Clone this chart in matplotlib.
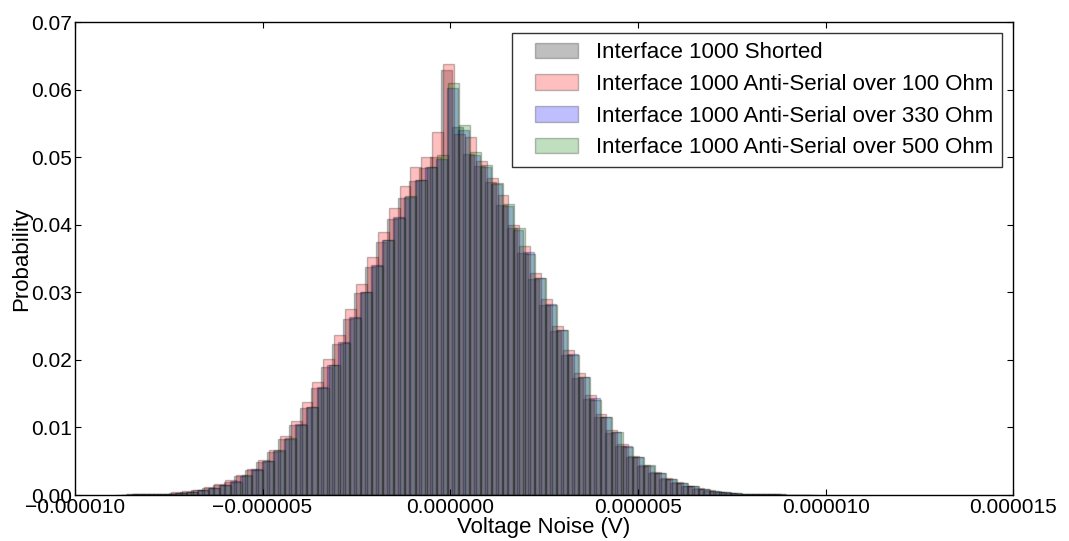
import numpy as np
import matplotlib
matplotlib.use("Agg")
import matplotlib.pyplot as plt
from matplotlib.patches import Rectangle
from matplotlib.legend_handler import HandlerPatch
from matplotlib.ticker import FuncFormatter

plt.rcParams["font.family"] = ["Liberation Sans", "DejaVu Sans"]

# bin layout of each noise histogram: left edge of the bin that holds 0 V, and bin width (V)
bin_width = 0.29e-6
zero_bin_left = {
    "shorted": -0.24e-6,
    "r100": -0.19e-6,
    "r330": -0.08e-6,
    "r500": -0.05e-6,
}
first_bin = -30  # index of the first bin relative to the zero bin

labels = [
    "Interface 1000 Shorted",
    "Interface 1000 Anti-Serial over 100 Ohm",
    "Interface 1000 Anti-Serial over 330 Ohm",
    "Interface 1000 Anti-Serial over 500 Ohm",
]

# probability per bin, bins -30 .. +33
shorted = [
    0.00005, 0.0001, 0.0001, 0.00015, 0.0002, 0.0003, 0.0005, 0.0007, 0.0010, 0.0015,
    0.0020, 0.0028, 0.0037, 0.0049, 0.0064, 0.0083, 0.0104, 0.0129, 0.0158, 0.0190,
    0.0224, 0.0261, 0.0299, 0.0338, 0.0375, 0.0409, 0.0440, 0.0465, 0.0484, 0.0500,
    0.0629,
    0.0545, 0.0505, 0.0487, 0.0463, 0.0430, 0.0395, 0.0358, 0.0320, 0.0281, 0.0243,
    0.0207, 0.0173, 0.0142, 0.0115, 0.0092, 0.0072, 0.0056, 0.0043, 0.0032, 0.0024,
    0.0018, 0.0013, 0.0009, 0.0006, 0.0004, 0.0003, 0.0002, 0.00015, 0.0001, 0.0001,
    0.00005, 0.00005, 0.00003,
]
r100 = [
    0.00005, 0.0001, 0.0001, 0.0002, 0.0002, 0.0004, 0.0006, 0.0008, 0.0012, 0.0016,
    0.0022, 0.0030, 0.0039, 0.0052, 0.0067, 0.0088, 0.0110, 0.0137, 0.0168, 0.0201,
    0.0237, 0.0276, 0.0313, 0.0352, 0.0390, 0.0425, 0.0457, 0.0485, 0.0500, 0.0537,
    0.0638,
    0.0535, 0.0530, 0.0495, 0.0469, 0.0444, 0.0400, 0.0368, 0.0328, 0.0290, 0.0250,
    0.0215, 0.0180, 0.0148, 0.0120, 0.0096, 0.0075, 0.0058, 0.0045, 0.0034, 0.0025,
    0.0019, 0.0014, 0.0010, 0.0007, 0.0005, 0.0003, 0.0002, 0.00015, 0.0001, 0.0001,
    0.00005, 0.00005, 0.00003,
]
r330 = [
    0.00005, 0.0001, 0.0001, 0.00015, 0.0002, 0.0003, 0.0005, 0.0007, 0.0010, 0.0015,
    0.0021, 0.0028, 0.0038, 0.0050, 0.0065, 0.0083, 0.0105, 0.0131, 0.0160, 0.0192,
    0.0226, 0.0263, 0.0300, 0.0340, 0.0377, 0.0411, 0.0441, 0.0466, 0.0485, 0.0497,
    0.0602,
    0.0540, 0.0503, 0.0485, 0.0460, 0.0428, 0.0393, 0.0360, 0.0322, 0.0283, 0.0244,
    0.0209, 0.0175, 0.0143, 0.0116, 0.0093, 0.0073, 0.0057, 0.0043, 0.0033, 0.0024,
    0.0018, 0.0013, 0.0009, 0.0006, 0.0004, 0.0003, 0.0002, 0.00015, 0.0001, 0.0001,
    0.00005, 0.00005, 0.00003,
]
r500 = [
    0.00005, 0.0001, 0.0001, 0.00015, 0.0002, 0.0003, 0.0005, 0.0007, 0.0010, 0.0015,
    0.0020, 0.0029, 0.0037, 0.0050, 0.0066, 0.0084, 0.0103, 0.0130, 0.0159, 0.0193,
    0.0225, 0.0262, 0.0301, 0.0339, 0.0378, 0.0410, 0.0442, 0.0467, 0.0486, 0.0503,
    0.0610,
    0.0548, 0.0508, 0.0488, 0.0462, 0.0431, 0.0396, 0.0357, 0.0321, 0.0282, 0.0245,
    0.0208, 0.0174, 0.0141, 0.0116, 0.0093, 0.0071, 0.0056, 0.0044, 0.0032, 0.0024,
    0.0018, 0.0013, 0.0009, 0.0006, 0.0004, 0.0003, 0.0002, 0.00015, 0.0001, 0.0001,
    0.00005, 0.00005, 0.00003,
]

series = [
    ("shorted", shorted, "k"),
    ("r100", r100, "r"),
    ("r330", r330, "b"),
    ("r500", r500, "g"),
]


def _fmt(decimals):
    return FuncFormatter(lambda v, pos: f"{v:.{decimals}f}".replace("-", "\u2212"))


def _swatch(legend, orig_handle, xdescent, ydescent, width, height, fontsize):
    # legend swatch sits at the right of its handle box, leaving a gap on the left
    return Rectangle((-xdescent + 0.25 * width, -ydescent), 0.75 * width, height)


fig = plt.figure(figsize=(10.69, 5.41), dpi=100)
ax = fig.add_axes([0.070, 0.085, 0.878, 0.874])

handles = []
for (key, probs, color), label in zip(series, labels):
    n = len(probs)
    edges = zero_bin_left[key] + (np.arange(n + 1) + first_bin) * bin_width
    centers = 0.5 * (edges[:-1] + edges[1:])
    _, _, patches = ax.hist(centers, bins=edges, weights=probs, color=color, alpha=0.25,
                            edgecolor="k", linewidth=1.0, label=label)
    handles.append(patches[0])

ax.set_xlim(-0.00001, 0.000015)
ax.set_ylim(0, 0.07)
ax.set_xticks(np.arange(-0.00001, 0.0000151, 0.000005))
ax.set_yticks(np.arange(0, 0.0701, 0.01))
ax.xaxis.set_major_formatter(_fmt(6))
ax.yaxis.set_major_formatter(_fmt(2))
ax.tick_params(direction="in", top=True, right=True, labelsize=15, length=4)
ax.tick_params(axis="x", pad=2.5)
ax.tick_params(axis="y", pad=2)
for spine in ax.spines.values():
    spine.set_linewidth(1.0)

ax.set_xlabel("Voltage Noise (V)", fontsize=16, labelpad=-0.5)
ax.set_ylabel("Probability", fontsize=16, labelpad=-1)

ax.legend(handles, labels, loc="upper right", fontsize=16, frameon=True, fancybox=False,
          edgecolor="k", handlelength=2.6, handleheight=0.7, handletextpad=0.8,
          borderaxespad=0.5, borderpad=0.4, labelspacing=0.48,
          handler_map={Rectangle: HandlerPatch(patch_func=_swatch)})

fig.savefig("out.png", dpi=100)
